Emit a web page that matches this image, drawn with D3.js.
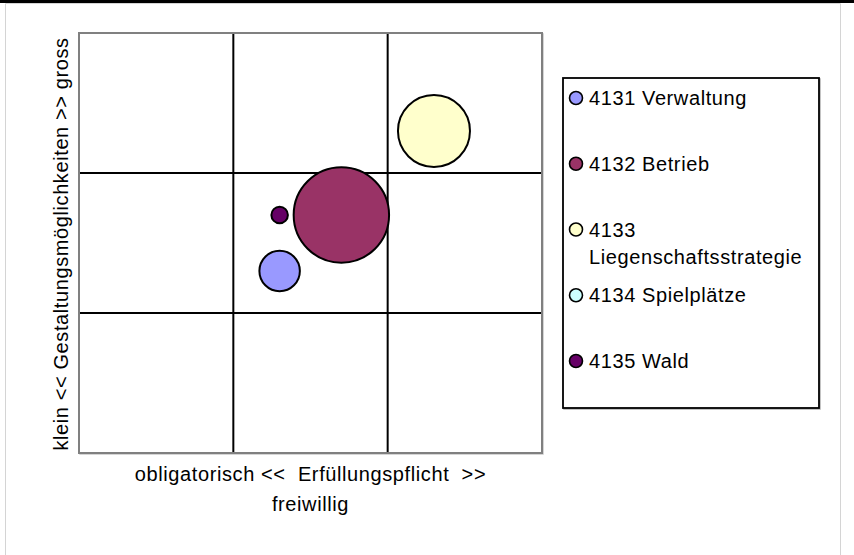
<!DOCTYPE html>
<html>
<head>
<meta charset="utf-8">
<script src="https://cdn.jsdelivr.net/npm/d3@7"></script>
<style>
  html, body { margin: 0; padding: 0; background: #fff; }
  svg { display: block; font-family: "Liberation Sans", Arial, sans-serif; }
</style>
</head>
<body>
<svg id="chart" width="854" height="555"></svg>
<script>
// Portfolio data: position (Erfüllungspflicht, Gestaltungsmöglichkeiten) and bubble size
const categories = ["4131 Verwaltung", "4132 Betrieb", "4133 Liegenschaftsstrategie", "4134 Spielplätze", "4135 Wald"];
const legendLines = [["4131 Verwaltung"], ["4132 Betrieb"], ["4133", "Liegenschaftsstrategie"], ["4134 Spielplätze"], ["4135 Wald"]];
const xValues = [1.3, 1.7, 2.3, 2.0, 1.3];
const yValues = [1.3, 1.7, 2.3, 2.0, 1.7];
const sizeValues = [18, 100, 57, 0, 3];
const colors = ["#9999FF", "#993366", "#FFFFCC", "#CCFFFF", "#660066"];
const gridTicks = [1, 2];
const axisDomain = [0, 3];
const xTitle = ["obligatorisch <<  Erfüllungspflicht  >>", "freiwillig"];
const yTitle = "klein << Gestaltungsmöglichkeiten >> gross";

const svg = d3.select("#chart");

// outer frame
svg.append("rect").attr("x", 0).attr("y", 0).attr("width", 854).attr("height", 3).attr("fill", "#000");
svg.append("path").attr("d", "M5.5,555 V3.5 H840.5 V555")
  .attr("fill", "none").attr("stroke", "#d4d4d4").attr("stroke-width", 1);

const plot = { left: 79, top: 33, right: 542, bottom: 453 };
const x = d3.scaleLinear().domain(axisDomain).range([plot.left, plot.right]);
const y = d3.scaleLinear().domain(axisDomain).range([plot.bottom, plot.top]);
const r = d3.scaleSqrt().domain([0, d3.max(sizeValues)]).range([0, 47.7]);

// plot area border (with light shadow)
svg.append("rect")
  .attr("x", plot.left + 1).attr("y", plot.top + 1)
  .attr("width", plot.right - plot.left).attr("height", plot.bottom - plot.top)
  .attr("fill", "none").attr("stroke", "#c8c8c8").attr("stroke-width", 1.5);
svg.append("rect")
  .attr("x", plot.left).attr("y", plot.top)
  .attr("width", plot.right - plot.left).attr("height", plot.bottom - plot.top)
  .attr("fill", "#fff").attr("stroke", "#808080").attr("stroke-width", 2);

// quadrant grid lines
const grid = svg.append("g");
grid.selectAll("line.v").data(gridTicks).join("line")
  .attr("x1", d => x(d)).attr("x2", d => x(d))
  .attr("y1", plot.top + 1).attr("y2", plot.bottom - 1)
  .attr("stroke", "#000").attr("stroke-width", 2);
grid.selectAll("line.h").data(gridTicks).join("line")
  .attr("y1", d => y(d)).attr("y2", d => y(d))
  .attr("x1", plot.left + 1).attr("x2", plot.right - 1)
  .attr("stroke", "#000").attr("stroke-width", 2);

// bubbles, largest drawn first
const bubbles = categories.map((c, i) => ({ c, x: xValues[i], y: yValues[i], s: sizeValues[i], color: colors[i] }))
  .filter(d => d.s > 0)
  .sort((a, b) => b.s - a.s);
svg.append("g").selectAll("circle").data(bubbles).join("circle")
  .attr("cx", d => x(d.x)).attr("cy", d => y(d.y)).attr("r", d => r(d.s))
  .attr("fill", d => d.color).attr("stroke", "#000").attr("stroke-width", 2);

// axis titles
const fs = 20;
const ls = "0.6px";
const xt = svg.append("text")
  .attr("text-anchor", "middle").attr("font-size", fs).attr("fill", "#000")
  .style("letter-spacing", ls).style("white-space", "pre");
xTitle.forEach((t, i) => {
  xt.append("tspan").attr("x", (plot.left + plot.right) / 2).attr("y", 481 + i * 30).text(t);
});
svg.append("text")
  .attr("transform", `translate(68,${(plot.top + plot.bottom) / 2 + 1}) rotate(-90)`)
  .attr("text-anchor", "middle").attr("font-size", fs).attr("fill", "#000")
  .style("letter-spacing", ls)
  .text(yTitle);

// legend
const lg = { left: 563, top: 78, right: 819, bottom: 408 };
svg.append("rect")
  .attr("x", lg.left + 1).attr("y", lg.top + 1)
  .attr("width", lg.right - lg.left).attr("height", lg.bottom - lg.top)
  .attr("fill", "none").attr("stroke", "#b0b0b0").attr("stroke-width", 1.5);
svg.append("rect")
  .attr("x", lg.left).attr("y", lg.top)
  .attr("width", lg.right - lg.left).attr("height", lg.bottom - lg.top)
  .attr("fill", "#fff").attr("stroke", "#000").attr("stroke-width", 1.8);

const rowY = d3.scaleLinear().domain([0, categories.length - 1]).range([98, 361]);
const items = svg.append("g").selectAll("g").data(categories).join("g")
  .attr("transform", (d, i) => `translate(0,${rowY(i)})`);
items.append("circle")
  .attr("cx", 576).attr("cy", 0).attr("r", 6.5)
  .attr("fill", (d, i) => colors[i]).attr("stroke", "#000").attr("stroke-width", 1.6);
items.append("text")
  .attr("font-size", fs).attr("fill", "#000").style("letter-spacing", ls)
  .each(function (d, i) {
    const t = d3.select(this);
    legendLines[i].forEach((line, j) => {
      t.append("tspan").attr("x", 589).attr("y", 7 + j * 27).text(line);
    });
  });
</script>
</body>
</html>
